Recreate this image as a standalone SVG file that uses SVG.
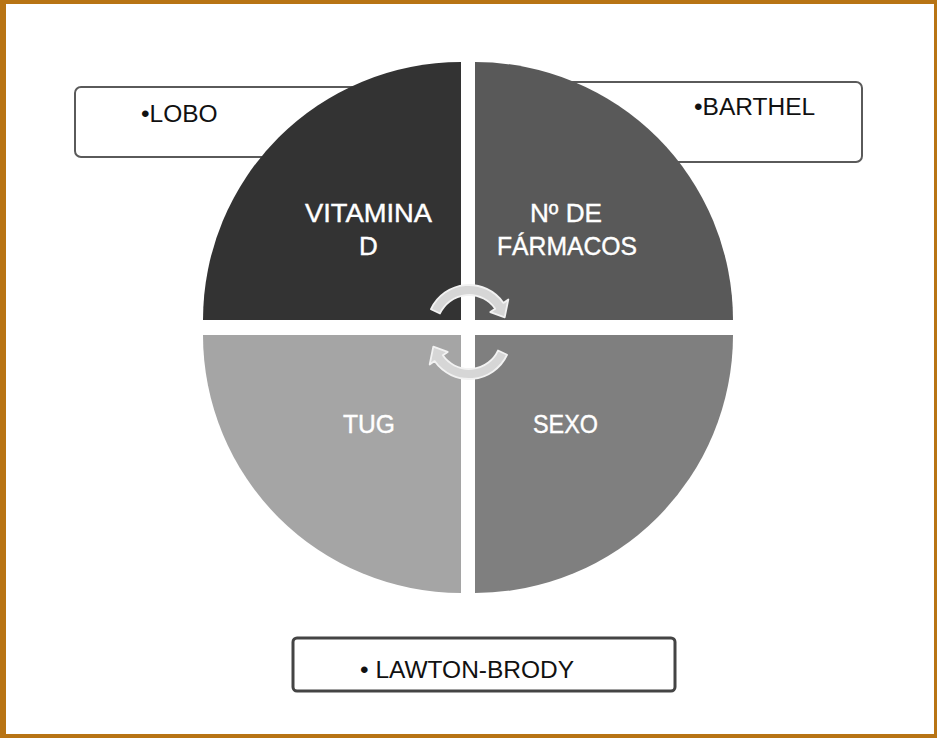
<svg xmlns="http://www.w3.org/2000/svg" width="937" height="738" viewBox="0 0 937 738">
  <style>
    .box { fill: #ffffff; stroke: #5a5a5a; stroke-width: 2; }
    .btxt { font-family: "Liberation Sans", Arial, sans-serif; font-size: 24.5px; fill: #111111; }
    .qtxt { font-family: "Liberation Sans", Arial, sans-serif; font-size: 26px; fill: #ffffff; text-anchor: middle; stroke: #ffffff; stroke-width: 0.4; }
    .arrow { fill: #d6d6d6; stroke: #f2f2f2; stroke-width: 1.8; stroke-linejoin: round; }
    .frame { fill: #b87414; }
  </style>
  <defs>
    <path id="cyc" d="M430.94,309.25 A42,42 0 0 1 503.41,302.91 L508.32,299.47 L504.7,317.4 L490.3,312.09 L495.21,308.65 A32,32 0 0 0 440.0,313.48 Z"/>
  </defs>
  <rect x="0" y="0" width="937" height="738" fill="#ffffff"/>
  <g id="frame">
    <rect class="frame" x="0" y="0" width="937" height="4"/>
    <rect class="frame" x="0" y="0" width="6" height="738"/>
    <rect class="frame" x="934" y="0" width="3" height="738"/>
    <rect class="frame" x="0" y="734" width="937" height="4"/>
  </g>
  <g id="node-lobo">
    <rect class="box" x="75" y="87" width="320" height="70" rx="6"/>
    <text class="btxt" x="141" y="122">•LOBO</text>
  </g>
  <g id="node-barthel">
    <rect class="box" x="545" y="82" width="317" height="80" rx="6"/>
    <text class="btxt" x="694" y="115">•BARTHEL</text>
  </g>
  <g id="node-lawton">
    <rect class="box" x="293" y="638" width="382" height="53" rx="4" style="stroke:#444444;stroke-width:3"/>
    <text class="btxt" x="360" y="678">• LAWTON-BRODY</text>
  </g>
  <g id="node-vitamina">
    <path d="M461,320 L203,320 A258,258 0 0 1 461,62 Z" fill="#333333"/>
    <text class="qtxt" x="368.5" y="222" textLength="127" lengthAdjust="spacingAndGlyphs">VITAMINA</text>
    <text class="qtxt" x="368.5" y="255">D</text>
  </g>
  <g id="node-farmacos">
    <path d="M475,320 L475,62 A258,258 0 0 1 733,320 Z" fill="#595959"/>
    <text class="qtxt" x="566" y="222" textLength="72" lengthAdjust="spacingAndGlyphs">Nº DE</text>
    <text class="qtxt" x="567" y="255" textLength="140" lengthAdjust="spacingAndGlyphs">FÁRMACOS</text>
  </g>
  <g id="node-tug">
    <path d="M461,335 L461,593 A258,258 0 0 1 203,335 Z" fill="#a5a5a5"/>
    <text class="qtxt" x="369" y="433" textLength="52" lengthAdjust="spacingAndGlyphs">TUG</text>
  </g>
  <g id="node-sexo">
    <path d="M475,335 L733,335 A258,258 0 0 1 475,593 Z" fill="#7f7f7f"/>
    <text class="qtxt" x="565.5" y="433" textLength="65" lengthAdjust="spacingAndGlyphs">SEXO</text>
  </g>
  <g id="connectors">
    <use href="#cyc" class="arrow"/>
    <use href="#cyc" class="arrow" transform="rotate(180 469 332)"/>
  </g>
</svg>
